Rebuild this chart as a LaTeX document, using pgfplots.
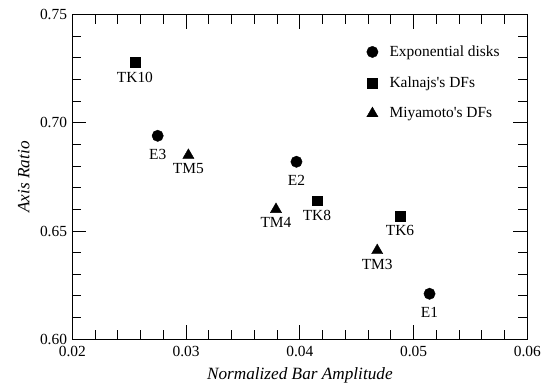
\documentclass[border=0pt]{standalone}
\usepackage{fontspec}
\setmainfont{Liberation Serif}
\usepackage{pgfplots}
\pgfplotsset{compat=1.18}
\begin{document}
\fontsize{15.5bp}{18bp}\selectfont
\begin{tikzpicture}
\begin{axis}[
  scale only axis, width=457bp, height=326bp,
  xmin=0.02, xmax=0.06, ymin=0.60, ymax=0.75,
  xtick={0.02,0.03,0.04,0.05,0.06},
  ytick={0.60,0.65,0.70,0.75},
  xticklabels={0.02,0.03,0.04,0.05,0.06},
  yticklabels={0.60,0.65,0.70,0.75},
  xtick scale label code/.code={},
  ytick scale label code/.code={},
  minor x tick num=4, minor y tick num=4,
  major tick length=14bp, minor tick length=9bp,
  tick style={line width=0.9pt, black},
  xticklabel style={yshift=-2bp},
  xlabel={\textit{Normalized Bar Amplitude}},
  ylabel={\textit{Axis Ratio}},
  label style={font=\fontsize{17.3bp}{20bp}\selectfont},
  axis line style={line width=0.9pt},
  legend image code/.code={\draw[#1] plot coordinates {(0bp,0bp)};},
  legend style={draw=none, fill=none, at={(rel axis cs:0.64,0.918)}, anchor=north west,
    row sep=14bp, column sep=9.5bp, font=\fontsize{15.5bp}{18bp}\selectfont},
  legend cell align=left,
]
\addplot[only marks, mark=*, mark size=5.7bp, black,
  nodes near coords, point meta=explicit symbolic,
  every node near coord/.style={anchor=north, inner sep=0pt, yshift=-13bp, black}]
  table[meta=label] {
x y label
0.0275 0.694 E3
0.0397 0.682 E2
0.0514 0.621 E1
};
\addlegendentry{Exponential disks}
\addplot[only marks, mark=square*, mark size=5bp, black,
  nodes near coords, point meta=explicit symbolic,
  every node near coord/.style={anchor=north, inner sep=0pt, yshift=-9.7bp, black}]
  table[meta=label] {
x y label
0.0255 0.728 TK10
0.0415 0.664 TK8
0.0488 0.657 TK6
};
\addlegendentry{Kalnajs\textquotesingle s DFs}
\addplot[only marks, mark=triangle*, mark size=6.5bp, black,
  nodes near coords, point meta=explicit symbolic,
  every node near coord/.style={anchor=north, inner sep=0pt, yshift=-8.3bp, black}]
  table[meta=label] {
x y label
0.0302 0.685 TM5
0.0379 0.660 TM4
0.0468 0.641 TM3
};
\addlegendentry{Miyamoto\textquotesingle s DFs}
\end{axis}
\path ([shift={(-72.7bp,-44.3bp)}]current axis.south west) rectangle ([shift={(16.3bp,14.7bp)}]current axis.north east);
\end{tikzpicture}
\end{document}
